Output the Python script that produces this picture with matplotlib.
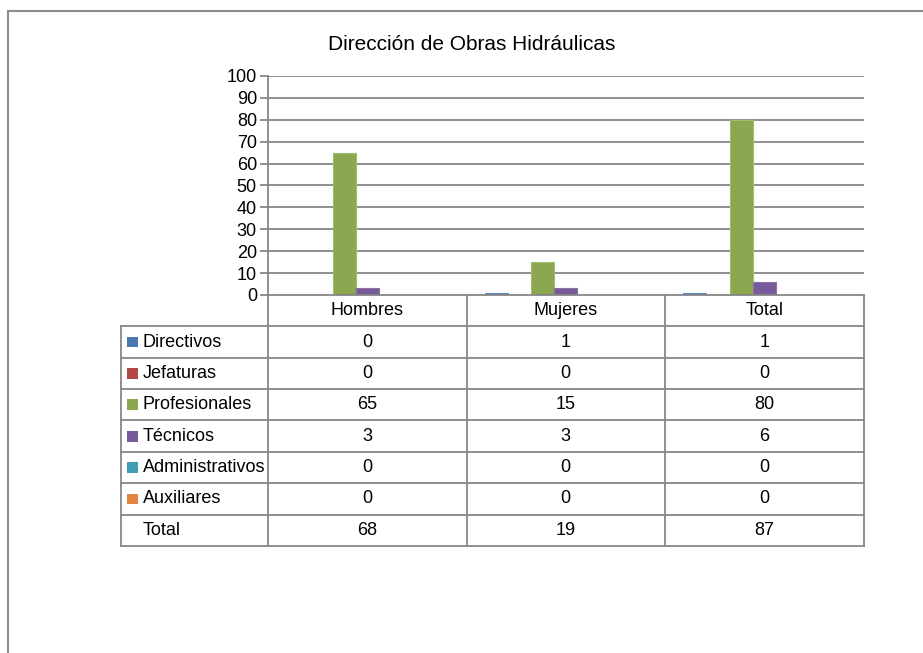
import matplotlib
matplotlib.use("Agg")
import matplotlib.pyplot as plt
from matplotlib.patches import Rectangle
import numpy as np

title = "Dirección de Obras Hidráulicas"
categories = ["Hombres", "Mujeres", "Total"]
series = ["Directivos", "Jefaturas", "Profesionales", "Técnicos", "Administrativos", "Auxiliares"]
values = {
    "Directivos": [0, 1, 1],
    "Jefaturas": [0, 0, 0],
    "Profesionales": [65, 15, 80],
    "Técnicos": [3, 3, 6],
    "Administrativos": [0, 0, 0],
    "Auxiliares": [0, 0, 0],
}
totals = [68, 19, 87]
colors = ["#4A78B0", "#B34845", "#8BA750", "#775A99", "#409EB7", "#E3843F"]
edge_colors = ["#5A89C4", "#C4605C", "#A0BE68", "#8A70AA", "#5CB3CA", "#F49A5A"]
yticks = list(range(0, 101, 10))

plt.rcParams['font.family'] = ['Liberation Sans Narrow', 'Liberation Sans', 'DejaVu Sans']

W, H = 923, 653
fig = plt.figure(figsize=(W / 100, H / 100), dpi=100)

def fx(px):
    return px / W

def fy(py):
    return 1 - py / H

# outer border
fig.add_artist(Rectangle((fx(8), fy(700)), fx(1000), (700 - 10.5) / H, transform=fig.transFigure,
                         fill=False, edgecolor="#8c8c8c", linewidth=1.5))

grid_c = "#878787"
L, R, T, B = 268, 863.5, 76, 295
ax = fig.add_axes([fx(L), fy(B), fx(R - L), (B - T) / H])
ax.set_xlim(0, 3)
ax.set_ylim(0, 100)
for s in ["top", "right", "bottom"]:
    ax.spines[s].set_visible(False)
ax.spines["left"].set_color(grid_c)
ax.spines["left"].set_linewidth(1.3)
ax.set_yticks(yticks)
ax.tick_params(axis="y", length=6, color=grid_c, width=1.3, labelsize=13, pad=2)
ax.set_xticks([])
for t in yticks[1:]:
    ax.axhline(t, color=grid_c, linewidth=1.3, zorder=0)

bw = 0.117
offset = -0.058
n = len(series)
for i, s in enumerate(series):
    xs = np.arange(3) + 0.5 + offset + (i - (n - 1) / 2) * bw
    ax.bar(xs, values[s], width=bw, color=colors[i], edgecolor=edge_colors[i], linewidth=0.8, zorder=2)

fig.text(fx(472), fy(45), title, ha="center", va="center", fontsize=15)

# data table
tL, tR = 121, R
tT = B
tax = fig.add_axes([fx(tL), fy(546), fx(tR - tL), (546 - tT) / H])
colw = (R - L) / 3.0
lab_w = (L - tL) / colw
tax.set_xlim(-lab_w, 3)
tax.set_ylim(8, 0)
tax.axis("off")
lc = grid_c
lw = 1.3
tax.plot([0, 3], [0, 0], color=lc, lw=lw, clip_on=False)
for r in range(1, 9):
    tax.plot([-lab_w, 3], [r, r], color=lc, lw=lw, clip_on=False)
tax.plot([-lab_w, -lab_w], [1, 8], color=lc, lw=lw, clip_on=False)
for c in range(4):
    tax.plot([c, c], [0, 8], color=lc, lw=lw, clip_on=False)

fs = 13
for c, cat in enumerate(categories):
    tax.text(c + 0.5, 0.5, cat, ha="center", va="center", fontsize=fs)
for r, s in enumerate(series):
    y = r + 1.5
    tax.add_patch(Rectangle((-lab_w + 0.029, y - 0.17), 0.058, 0.34, facecolor=colors[r],
                            edgecolor="none", clip_on=False))
    tax.text(-lab_w + 0.11, y, s, ha="left", va="center", fontsize=fs)
    for c in range(3):
        tax.text(c + 0.5, y, str(values[s][c]), ha="center", va="center", fontsize=fs)
tax.text(-lab_w + 0.11, 7.5, "Total", ha="left", va="center", fontsize=fs)
for c in range(3):
    tax.text(c + 0.5, 7.5, str(totals[c]), ha="center", va="center", fontsize=fs)

fig.savefig("out.png", dpi=100)
